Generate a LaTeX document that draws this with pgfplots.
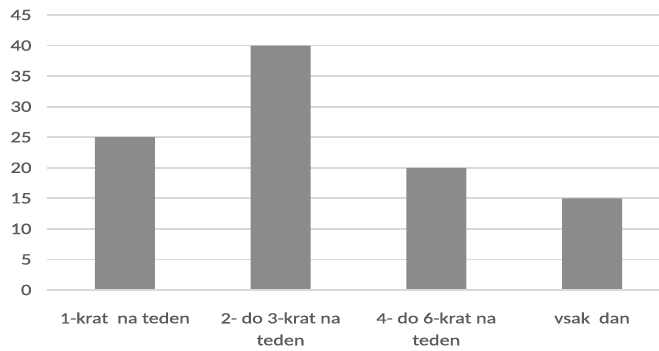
\documentclass[border=0pt]{standalone}
\usepackage{pgfplots}
\pgfplotsset{compat=1.18}
\usepackage{fontspec}
\setmainfont[FakeStretch=1.3,FakeBold=0.6]{Carlito}
\definecolor{barc}{HTML}{8B8B8E}
\definecolor{gridc}{HTML}{D9D9D9}
\definecolor{txt}{HTML}{5A5A5A}
\begin{document}
\begin{tikzpicture}
\begin{axis}[
  scale only axis,
  width=612bp, height=275bp,
  xmin=-0.5, xmax=3.43,
  ymin=0, ymax=45,
  ytick={0,5,...,45},
  xtick={0,1,2,3},
  xticklabels={{1-krat\ \ na teden},{2- do 3-krat na\\teden},{4- do 6-krat na\\teden},{vsak\ \ dan}},
  xticklabel style={align=center, font=\fontsize{15.5bp}{22bp}\selectfont, text=txt, yshift=-19bp},
  yticklabel style={font=\fontsize{16bp}{18bp}\selectfont, text=txt, xshift=-12bp},
  /pgf/number format/assume math mode=true,
  major tick length=0pt,
  axis line style={draw=none},
  ymajorgrids, grid style={gridc, line width=1.8bp},
  ybar, bar width=60bp,
  clip=false,
]
\addplot[fill=barc, draw=none] coordinates {(0,25) (1,40) (2,20) (3,15)};
\draw[gridc, line width=2bp] (axis cs:-0.5,0) -- (axis cs:3.43,0);
\end{axis}
\pgfresetboundingbox
\path[use as bounding box] (-47bp,-61bp) rectangle (612bp,290bp);
\end{tikzpicture}
\end{document}
